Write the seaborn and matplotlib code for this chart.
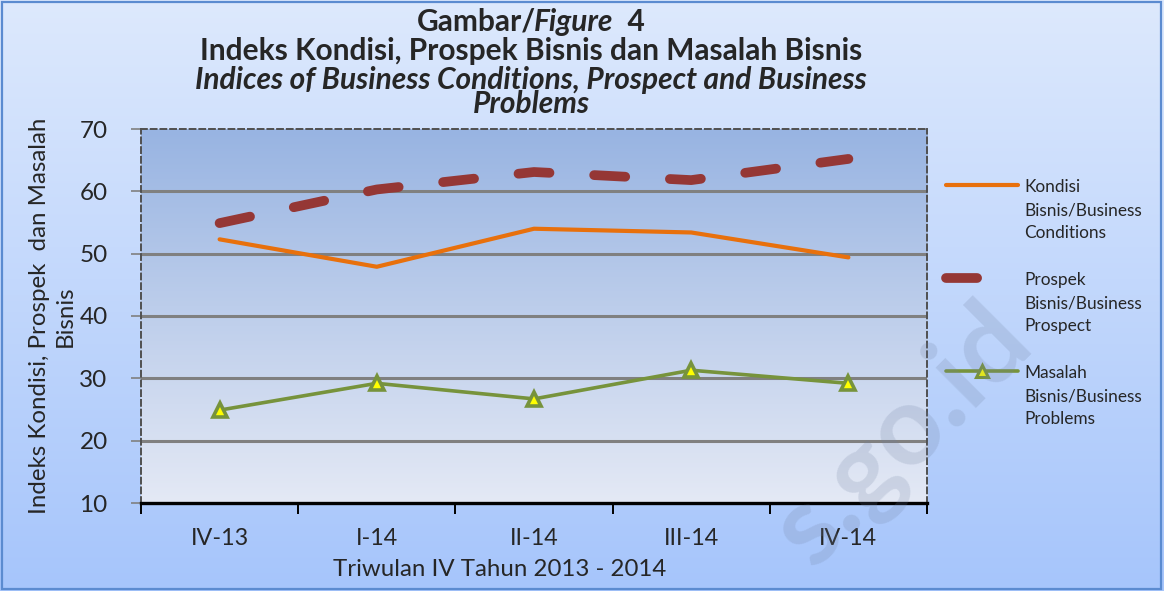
import numpy as np
import pandas as pd
import matplotlib
matplotlib.use("Agg")
import matplotlib.pyplot as plt
from matplotlib.patches import Rectangle
import seaborn as sns

# ---------------- data ----------------
categories = ["IV-13", "I-14", "II-14", "III-14", "IV-14"]
kondisi = [52.3, 47.9, 54.0, 53.4, 49.4]
prospek = [54.9, 60.3, 63.1, 61.8, 65.2]
masalah = [24.9, 29.2, 26.7, 31.3, 29.2]
labels = ["Kondisi\nBisnis/Business\nConditions",
          "Prospek\nBisnis/Business\nProspect",
          "Masalah\nBisnis/Business\nProblems"]
yticks = [10, 20, 30, 40, 50, 60, 70]

sns.set_theme(style="white")
plt.rcParams['font.family'] = ['Lato', 'DejaVu Sans']

W, H = 1164, 591
fig = plt.figure(figsize=(W / 100, H / 100), dpi=100)

# figure background gradient
bg = fig.add_axes([0, 0, 1, 1], zorder=-10)
grad = np.linspace(0, 1, 256)[:, None]
top_c = np.array([0xdd, 0xe9, 0xfd]) / 255
bot_c = np.array([0xa6, 0xc5, 0xfb]) / 255
img = top_c[None, None, :] * (1 - grad[..., None]) + bot_c[None, None, :] * grad[..., None]
bg.imshow(img, aspect="auto", extent=[0, 1, 0, 1])
bg.set_axis_off()
fig.patches.append(Rectangle((0.002, 0.003), 0.995, 0.993, transform=fig.transFigure,
                             fill=False, edgecolor="#5b8bd0", lw=1.6, zorder=5))

ax = fig.add_axes([141 / W, 1 - 503 / H, (927 - 141) / W, (503 - 129) / H])
ax.set_facecolor("none")

c_k, c_p, c_m = "#E8700C", "#953735", "#77933C"
sns.lineplot(x=categories, y=kondisi, ax=ax, color=c_k, lw=3.0, label=labels[0],
             sort=False, zorder=4, solid_capstyle="round")
sns.lineplot(x=categories, y=prospek, ax=ax, color=c_p, lw=7.0, label=labels[1],
             sort=False, zorder=4, linestyle=(0, (3.2, 4.6)), dash_capstyle="round")
sns.lineplot(x=categories, y=masalah, ax=ax, color=c_m, lw=2.6, label=labels[2],
             sort=False, zorder=5, marker="^", markersize=10, markerfacecolor="#FFFF00",
             markeredgecolor=c_m, markeredgewidth=2.6)

# plot area gradient
pgrad = np.linspace(0, 1, 256)[:, None]
ptop = np.array([0x98, 0xb4, 0xe2]) / 255
pbot = np.array([0xe4, 0xe9, 0xf5]) / 255
pimg = ptop[None, None, :] * (1 - pgrad[..., None]) + pbot[None, None, :] * pgrad[..., None]
ax.imshow(pimg, aspect="auto", extent=[-0.5, 4.5, 10, 70], zorder=0)
ax.set_xlim(-0.5, 4.5)
ax.set_ylim(10, 70)
ax.set_aspect("auto")

# grid
ax.set_yticks(yticks)
ax.set_yticklabels([str(v) for v in yticks], fontsize=17.5)
for v in yticks[1:-1]:
    ax.axhline(v, color="#808080", lw=2.2, zorder=1)
ax.tick_params(axis="y", length=7, width=1.2, color="#808080", pad=17, left=True)

ax.set_xticks(np.arange(-0.5, 5, 1))
ax.set_xticklabels([])
ax.set_xticks(range(len(categories)), minor=True)
ax.set_xticklabels(categories, minor=True, fontsize=16.8)
ax.tick_params(axis="x", which="major", length=8, width=1.4, color="black", bottom=True, direction="out")
ax.tick_params(axis="x", which="minor", length=0, pad=18)

for s in ["top", "right", "left"]:
    ax.spines[s].set_visible(True)
    ax.spines[s].set_color("#505050")
    ax.spines[s].set_linestyle((0, (3, 2)))
    ax.spines[s].set_linewidth(1.4)
ax.spines["bottom"].set_color("black")
ax.spines["bottom"].set_linewidth(2.4)
for s in ax.spines.values():
    s.set_zorder(6)

ax.set_xlabel("Triwulan IV Tahun 2013 - 2014", fontsize=17.3)
ax.xaxis.set_label_coords((500 - 141) / 786, -(559 - 503) / 374)
ax.set_ylabel("Indeks Kondisi, Prospek  dan Masalah\nBisnis", fontsize=17.3, linespacing=1.3)
ax.yaxis.set_label_coords(-(141 - 76) / 786, 0.5)

# legend
leg = ax.legend(loc="upper left", bbox_to_anchor=(946 / W, 1 - 179 / H),
                bbox_transform=fig.transFigure, frameon=False, fontsize=12.4,
                handlelength=4.2, handletextpad=0.35, labelspacing=1.78, borderpad=0,
                borderaxespad=0)
for t in leg.get_texts():
    t.set_linespacing(1.55)
for col in leg._legend_handle_box.get_children():
    for row in col.get_children():
        row.align = "top"
for h in leg.legend_handles:
    if h.get_marker() not in (None, "None", ""):
        h.set_markersize(8)
        h.set_markeredgewidth(2.2)

# titles
fs_t = 21.5
cx = 531 / W
fig.canvas.draw()
r = fig.canvas.get_renderer()
p1 = fig.text(0, 1 - 22 / H, "Gambar/", fontsize=fs_t, fontweight="bold", va="center")
p2 = fig.text(0, 1 - 22 / H, "Figure", fontsize=fs_t, fontweight="bold", style="italic", va="center")
p3 = fig.text(0, 1 - 22 / H, "  4", fontsize=fs_t, fontweight="bold", va="center")
ws = [p.get_window_extent(r).width / W for p in (p1, p2, p3)]
ws[0] -= 3 / W
x0 = cx - sum(ws) / 2
for p, w in zip((p1, p2, p3), ws):
    p.set_x(x0)
    x0 += w
fig.text(cx, 1 - 51 / H, "Indeks Kondisi, Prospek Bisnis dan Masalah Bisnis", fontsize=fs_t,
         fontweight="bold", ha="center", va="center")
fig.text(cx, 1 - 92 / H, "Indices of Business Conditions, Prospect and Business\nProblems",
         fontsize=fs_t, fontweight="bold", style="italic", ha="center", va="center",
         linespacing=0.85, multialignment="center")

# watermark (visible part)
fig.text(902 / W, 1 - 436 / H, "s.go.id", fontsize=80, fontweight="bold", rotation=45,
         ha="center", va="center", color="#6f7f9f", alpha=0.2, zorder=3)

fig.savefig("out.png", dpi=100)
